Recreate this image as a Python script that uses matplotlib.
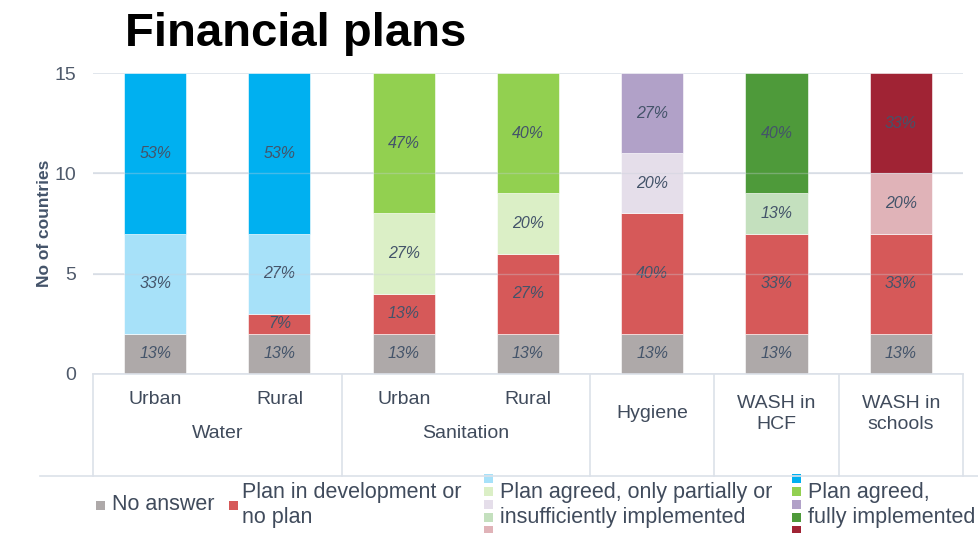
import matplotlib
matplotlib.use("Agg")
import matplotlib.pyplot as plt
from matplotlib.patches import Rectangle
from matplotlib.lines import Line2D
import matplotlib.transforms as mtransforms

plt.rcParams['font.family'] = ['Liberation Sans', 'DejaVu Sans']

# ---- data (number of countries, out of 15) ----
bar_labels = ["Urban", "Rural", "Urban", "Rural", "Hygiene", "WASH in\nHCF", "WASH in\nschools"]
group_names = ["Water", "Sanitation"]
group_members = [[0, 1], [2, 3]]
total = 15
no_answer = [2, 2, 2, 2, 2, 2, 2]
in_development = [0, 1, 2, 4, 6, 5, 5]
partial = [5, 4, 4, 3, 3, 2, 3]
full = [8, 8, 7, 6, 4, 6, 5]
yticks = [0, 5, 10, 15]

legend_labels = ["No answer", "Plan in development or\nno plan",
                 "Plan agreed, only partially or\ninsufficiently implemented",
                 "Plan agreed,\nfully implemented"]

# ---- colours ----
c_no = "#AEA9A9"
c_dev = "#D65959"
c_partial = ["#A7E1F9", "#A7E1F9", "#DBEFC6", "#DBEFC6", "#E5DEEA", "#C4E0BE", "#E0B3B8"]
c_full = ["#00B0F0", "#00B0F0", "#92D050", "#92D050", "#B1A1C8", "#4E9A3A", "#A02334"]
txt_col = "#44546A"
grid_col = "#DCE1E9"

W, H = 979, 533
fig = plt.figure(figsize=(W / 100, H / 100), dpi=100)
ax = fig.add_axes([93 / W, 1 - 374 / H, (963 - 93) / W, (374 - 73) / H])

x = list(range(len(bar_labels)))
bottom1 = no_answer
bottom2 = [a + b for a, b in zip(no_answer, in_development)]
bottom3 = [a + b for a, b in zip(bottom2, partial)]

segs = [
    (no_answer, [0] * len(x), [c_no] * len(x)),
    (in_development, bottom1, [c_dev] * len(x)),
    (partial, bottom2, c_partial),
    (full, bottom3, c_full),
]
for vals, bot, cols in segs:
    cont = ax.bar(x, vals, bottom=bot, width=0.5, color=cols, edgecolor="white",
                  linewidth=0.4, zorder=2)
    labs = [f"{round(v / total * 100)}%" if v > 0 else "" for v in vals]
    ax.bar_label(cont, labels=labs, label_type="center", fontsize=11.5,
                 style="italic", color=txt_col)

# faint gridlines showing through the bars
for t in yticks[1:-1]:
    ax.axhline(t, color="#C8CFDA", linewidth=1.0, alpha=0.35, zorder=3)

ax.set_xlim(-0.5, len(x) - 0.5)
ax.set_ylim(0, total)
ax.set_yticks(yticks)
ax.set_yticklabels([str(t) for t in yticks], fontsize=14, color="#4F5A6B")
ax.tick_params(axis="y", length=0, pad=12)
ax.set_xticks([])
for s in ["left", "right", "top"]:
    ax.spines[s].set_visible(False)
ax.spines["bottom"].set_color(grid_col)
ax.spines["bottom"].set_linewidth(1.2)
ax.yaxis.grid(True, color=grid_col, linewidth=1.2, zorder=0)
ax.set_axisbelow(True)
ax.set_ylabel("No of countries", fontsize=12.5, fontweight="bold", color=txt_col, labelpad=2)

# category labels (two-level axis)
trans = mtransforms.blended_transform_factory(ax.transData, ax.transAxes)
ax_h = 374 - 73
grouped = set(i for g in group_members for i in g)
for i, lab in enumerate(bar_labels):
    if i in grouped:
        ax.text(i, -25 / ax_h, lab, transform=trans, ha="center", va="center",
                fontsize=14, color="#404B5C")
    else:
        ax.text(i, -40 / ax_h, lab, transform=trans, ha="center", va="center",
                fontsize=14, color="#404B5C", linespacing=1.25)
for name, mem in zip(group_names, group_members):
    ax.text(sum(mem) / len(mem), -60 / ax_h, name, transform=trans, ha="center",
            va="center", fontsize=14, color="#404B5C")

# separators
bounds = [-0.5, 1.5, 3.5, 4.5, 5.5, len(x) - 0.5]
for b in bounds:
    ax.add_line(Line2D([b, b], [0, -(476 - 374) / ax_h], transform=trans,
                       color=grid_col, linewidth=1.2, clip_on=False))
fig.add_artist(Line2D([40 / W, 1], [1 - 476 / H, 1 - 476 / H], color=grid_col, linewidth=1.2))

# title
fig.text(125 / W, 1 - 34 / H, "Financial plans", fontsize=34, fontweight="bold",
         color="black", ha="left", va="center")

# legend (manual)
sq = 9
def square(px, py, col):
    fig.add_artist(Rectangle((px / W, 1 - (py + sq / 2) / H), sq / W, sq / H,
                             facecolor=col, edgecolor="none"))

leg_col = "#404B5C"
ly = 505
square(96, ly, c_no)
fig.text(112 / W, 1 - ly / H, legend_labels[0], fontsize=15.5, color=leg_col,
         ha="left", va="center")
square(229, ly, c_dev)
fig.text(242 / W, 1 - ly / H, legend_labels[1], fontsize=15.5, color=leg_col,
         ha="left", va="center", linespacing=1.3)
uniq_partial = list(dict.fromkeys(c_partial))
uniq_full = list(dict.fromkeys(c_full))
for k, col in enumerate(uniq_partial):
    square(484, 478 + k * 13, col)
fig.text(500 / W, 1 - ly / H, legend_labels[2], fontsize=15.5, color=leg_col,
         ha="left", va="center", linespacing=1.3)
for k, col in enumerate(uniq_full):
    square(792, 478 + k * 13, col)
fig.text(808 / W, 1 - ly / H, legend_labels[3], fontsize=15.5, color=leg_col,
         ha="left", va="center", linespacing=1.3)

fig.savefig("out.png", dpi=100)
